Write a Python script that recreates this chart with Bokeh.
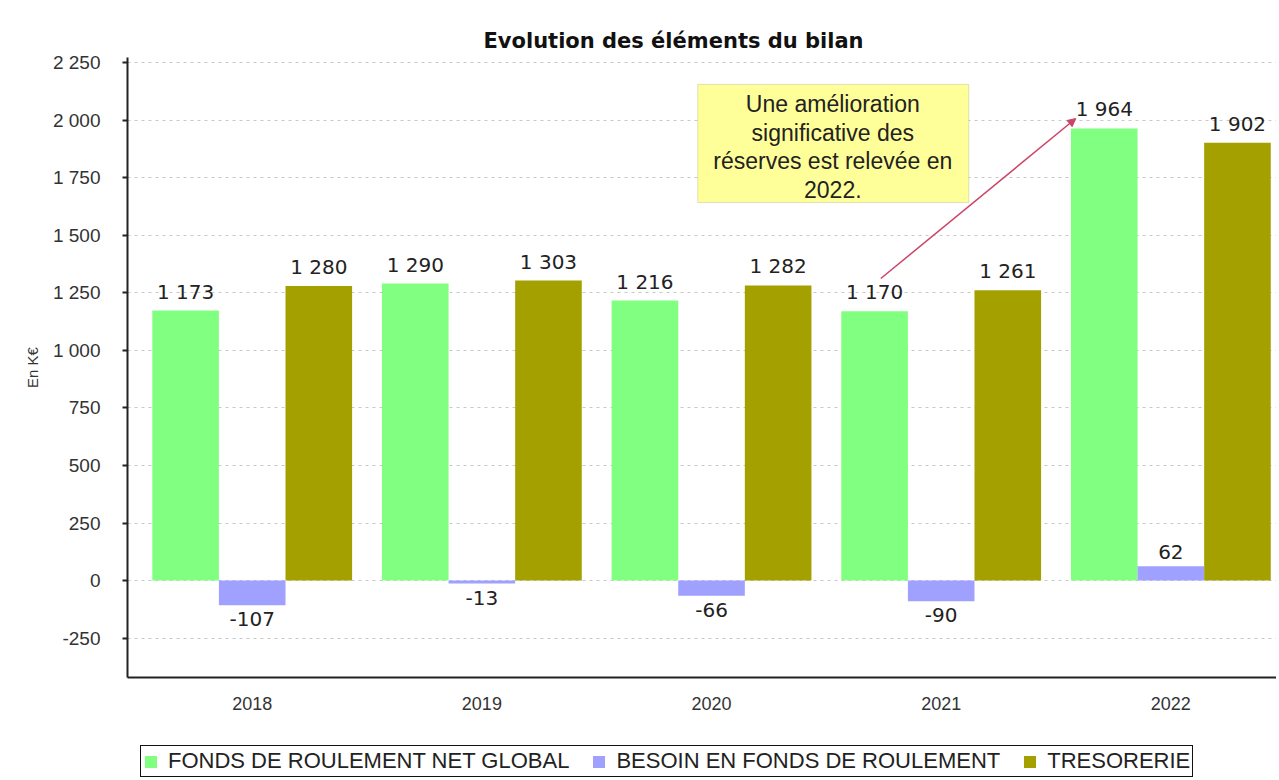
from bokeh.plotting import figure
from bokeh.layouts import column
from bokeh.models import (ColumnDataSource, FixedTicker, Legend, LegendItem, Arrow,
                          NormalHead, Label, BoxAnnotation, Title)
from bokeh.core.properties import value
from bokeh.embed import file_html
from bokeh.resources import INLINE

years = ["2018", "2019", "2020", "2021", "2022"]
fonds_roulement = [1173, 1290, 1216, 1170, 1964]
besoin_fonds = [-107, -13, -66, -90, 62]
tresorerie = [1280, 1303, 1282, 1261, 1902]
series_names = ["FONDS DE ROULEMENT NET GLOBAL", "BESOIN EN FONDS DE ROULEMENT", "TRESORERIE"]
series_colors = ["#80FF80", "#A0A0FF", "#A3A000"]
y_ticks = [-250, 0, 250, 500, 750, 1000, 1250, 1500, 1750, 2000, 2250]
note_lines = ["Une amélioration", "significative des", "réserves est relevée en", "2022."]


def fmt(v):
    s = f"{abs(v):,}".replace(",", " ")
    return ("-" if v < 0 else "") + s


p = figure(width=1276, height=720, output_backend="svg", toolbar_location=None,
           x_range=(-0.543, 4.46), y_range=(-421, 2272),
           min_border_left=127, min_border_right=0, min_border_top=57, min_border_bottom=43)
p.background_fill_color = "white"
p.border_fill_color = "white"
p.outline_line_color = None

p.title = Title(text="Evolution des éléments du bilan", align="left", offset=356,
                text_font="DejaVu Sans", text_font_size="21px", text_font_style="bold",
                text_color="#111111", standoff=10)

bar_w = 0.29
offsets = [-bar_w, 0.0, bar_w]
series = [fonds_roulement, besoin_fonds, tresorerie]
for vals, off, col in zip(series, offsets, series_colors):
    xs = [i + off for i in range(len(years))]
    src = ColumnDataSource(dict(x=xs, top=vals,
                                lab=[fmt(v) for v in vals],
                                ly=[v for v in vals],
                                yo=[-7 if v >= 0 else 7 for v in vals],
                                base=["bottom" if v >= 0 else "top" for v in vals]))
    p.vbar(x="x", top="top", bottom=0, width=bar_w, source=src,
           fill_color=col, line_color=None)
    p.text(x="x", y="ly", text="lab", y_offset="yo", source=src,
           text_align="center", text_baseline="base",
           text_font=value("DejaVu Sans"), text_font_size="20px", text_color="#222222")

# axes
p.yaxis.ticker = FixedTicker(ticks=y_ticks)
p.yaxis.major_label_overrides = {t: fmt(t) for t in y_ticks}
p.yaxis.axis_label = "En K€"
p.yaxis.axis_label_text_font = "Liberation Sans"
p.yaxis.axis_label_text_font_style = "normal"
p.yaxis.axis_label_text_font_size = "15px"
p.yaxis.axis_label_text_color = "#333333"
p.yaxis.axis_label_standoff = 9
p.yaxis.major_label_text_font = "Liberation Sans"
p.yaxis.major_label_text_font_size = "19px"
p.yaxis.major_label_text_color = "#333333"
p.yaxis.major_label_standoff = 22
p.yaxis.axis_line_color = "#222222"
p.yaxis.axis_line_width = 2
p.yaxis.major_tick_line_color = "#222222"
p.yaxis.major_tick_line_width = 2
p.yaxis.major_tick_out = 5
p.yaxis.major_tick_in = 0
p.yaxis.minor_tick_line_color = None

p.xaxis.ticker = FixedTicker(ticks=list(range(len(years))))
p.xaxis.major_label_overrides = {i: y for i, y in enumerate(years)}
p.xaxis.major_label_text_font = "Liberation Sans"
p.xaxis.major_label_text_font_size = "18px"
p.xaxis.major_label_text_color = "#333333"
p.xaxis.major_label_standoff = 13
p.xaxis.axis_line_color = "#222222"
p.xaxis.axis_line_width = 2
p.xaxis.major_tick_line_color = None
p.xaxis.minor_tick_line_color = None

p.xgrid.grid_line_color = None
p.ygrid.grid_line_color = "#C8C8C8"
p.ygrid.grid_line_dash = "3 4"
p.ygrid.ticker = FixedTicker(ticks=y_ticks)

# annotation box
p.add_layout(BoxAnnotation(left=1.94, right=3.12, bottom=1642, top=2155,
                           fill_color="#FFFF99", fill_alpha=1.0,
                           line_color="#999977", line_width=1))
for k, line in enumerate(note_lines):
    p.add_layout(Label(x=2.528, y=2155, y_offset=-20 - 28.3 * k, text=line,
                       text_align="center", text_baseline="middle",
                       text_font="Liberation Sans", text_font_size="23px",
                       text_color="#222222"))

p.add_layout(Arrow(x_start=2.737, y_start=1312, x_end=3.586, y_end=2007,
                   line_color="#CC4466", line_width=1.5,
                   end=NormalHead(size=8, fill_color="#CC4466", line_color="#CC4466")))

# legend figure (frame aligned with the main frame by the column layout)
lf = figure(width=1276, height=58, output_backend="svg", toolbar_location=None,
            x_axis_type=None, y_axis_type=None, x_range=(0, 1), y_range=(0, 1),
            min_border=0)
lf.outline_line_color = None
lf.xgrid.grid_line_color = None
lf.ygrid.grid_line_color = None
leg_renderers = []
for col in series_colors:
    leg_renderers.append(lf.vbar(x=[5], top=[1], width=0.1, fill_color=col, line_color=None))

legend = Legend(items=[LegendItem(label=n, renderers=[r]) for n, r in zip(series_names, leg_renderers)],
                orientation="horizontal", location=(13, 1),
                label_text_font="Liberation Sans", label_text_font_size="22px",
                label_text_color="#222222", glyph_width=15, glyph_height=15,
                label_standoff=10, spacing=22, padding=2, margin=0,
                label_height=20,
                border_line_color="#111111", border_line_width=1.5, border_line_alpha=1.0,
                background_fill_alpha=1.0)
lf.add_layout(legend)

layout = column(p, lf, spacing=0)
open("out.html", "w").write(file_html(layout, INLINE))
